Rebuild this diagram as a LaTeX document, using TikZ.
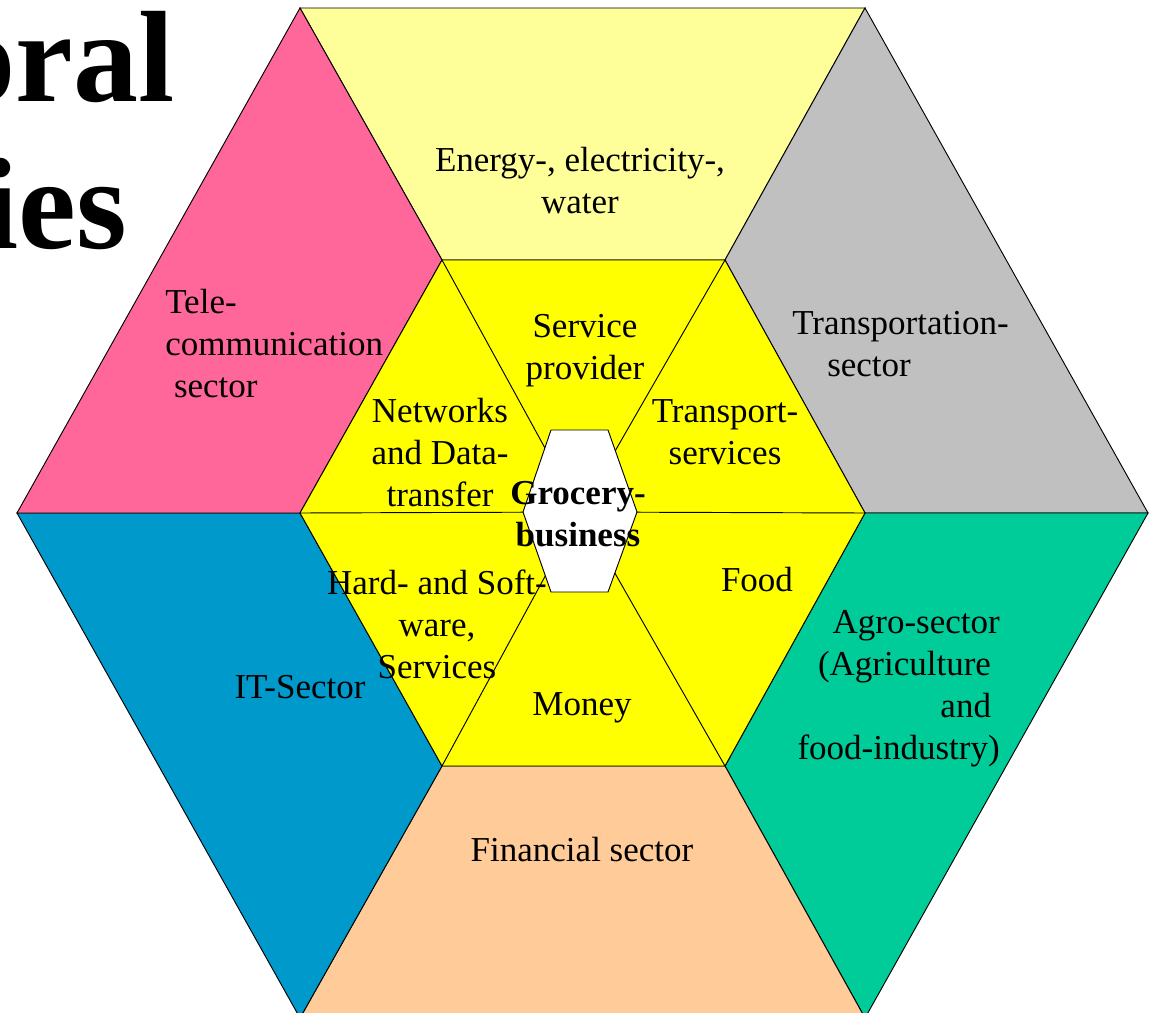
\documentclass[tikz,border=0pt]{standalone}
\usepackage{fontspec}
\setmainfont{Liberation Serif}
\definecolor{lyellow}{HTML}{FFFF99}
\definecolor{tpink}{HTML}{FF6699}
\definecolor{tgray}{HTML}{C0C0C0}
\definecolor{tgreen}{HTML}{00CC99}
\definecolor{tpeach}{HTML}{FFCC99}
\definecolor{tblue}{HTML}{0099CC}
\definecolor{tyellow}{HTML}{FFFF00}
\begin{document}
\begin{tikzpicture}[x=0.75pt,y=-0.75pt,
  region/.style={draw=black,line width=0.7pt,line join=miter},
  lbl/.style={font=\fontsize{26.25pt}{31.5pt}\selectfont,inner sep=0pt},
  ttl/.style={font=\fontsize{97.5pt}{110pt}\selectfont\bfseries,inner sep=0pt}]
\useasboundingbox (0,0) rectangle (1156,1013);
\clip (0,0) rectangle (1156,1013);
% outer vertices
\coordinate (O1) at (17,513);
\coordinate (O2) at (300,8);
\coordinate (O3) at (865,8);
\coordinate (O4) at (1148,513);
\coordinate (O5) at (865,1018);
\coordinate (O6) at (300,1018);
% inner vertices
\coordinate (I1) at (300,513);
\coordinate (I2) at (442,260);
\coordinate (I3) at (725,260);
\coordinate (I4) at (865,513);
\coordinate (I5) at (725,766);
\coordinate (I6) at (442,766);
\coordinate (C) at (580,512);
% small hexagon
\coordinate (S1) at (523,512);
\coordinate (S2) at (551,430);
\coordinate (S3) at (608,430);
\coordinate (S4) at (637,512);
\coordinate (S5) at (608,592);
\coordinate (S6) at (551,592);
% title (cut off at the left edge, as in the reference)
\node[ttl,anchor=base east] (t1) at (175,102) {oral};
\node[ttl,anchor=base east] (t2) at (127,248) {ies};
% outer regions
\filldraw[region,fill=lyellow] (O2) -- (O3) -- (I3) -- (I2) -- cycle;
\filldraw[region,fill=tgray] (O3) -- (O4) -- (I4) -- (I3) -- cycle;
\filldraw[region,fill=tgreen] (O4) -- (O5) -- (I5) -- (I4) -- cycle;
\filldraw[region,fill=tpeach] (O5) -- (O6) -- (I6) -- (I5) -- cycle;
\filldraw[region,fill=tblue] (O6) -- (O1) -- (I1) -- (I6) -- cycle;
\filldraw[region,fill=tpink] (O1) -- (O2) -- (I2) -- (I1) -- cycle;
% inner hexagon
\filldraw[region,fill=tyellow] (I1) -- (I2) -- (I3) -- (I4) -- (I5) -- (I6) -- cycle;
\draw[region] (I1) -- (C) (I2) -- (C) (I3) -- (C) (I4) -- (C) (I5) -- (C) (I6) -- (C);
\filldraw[region,fill=white] (S1) -- (S2) -- (S3) -- (S4) -- (S5) -- (S6) -- cycle;
% labels
\node[lbl,align=center] (energy) at (580,181) {Energy-, electricity-,\\water};
\node[lbl,align=left,anchor=west] (tele) at (165,344) {Tele-\\communication\\\hspace*{.25em}sector};
\node[lbl,align=left,anchor=west] (transp) at (792,344) {Transportation-\\\hspace*{1em}sector};
\node[lbl,align=center] (service) at (585,351) {Service\\provider};
\node[lbl,align=center] (networks) at (440,453) {Networks\\and Data-\\transfer};
\node[lbl,align=center] (transserv) at (725,432) {Transport-\\services};
\node[lbl,align=center,font=\fontsize{26.25pt}{31.5pt}\selectfont\bfseries] (grocery) at (578,514) {Grocery-\\business};
\node[lbl,align=center] (hard) at (437,624) {Hard- and Soft-\\ware,\\Services};
\node[lbl] (food) at (757,580) {Food};
\node[lbl] (it) at (300,687) {IT-Sector};
\node[lbl] (money) at (582,708) {Money};
\node[lbl,align=right,anchor=east] (agro) at (1000,689) {Agro-sector\\(Agriculture\hspace*{.25em}\null\\and\hspace*{.25em}\null\\food-industry)};
\node[lbl] (fin) at (582,850) {Financial sector};
\end{tikzpicture}
\end{document}
